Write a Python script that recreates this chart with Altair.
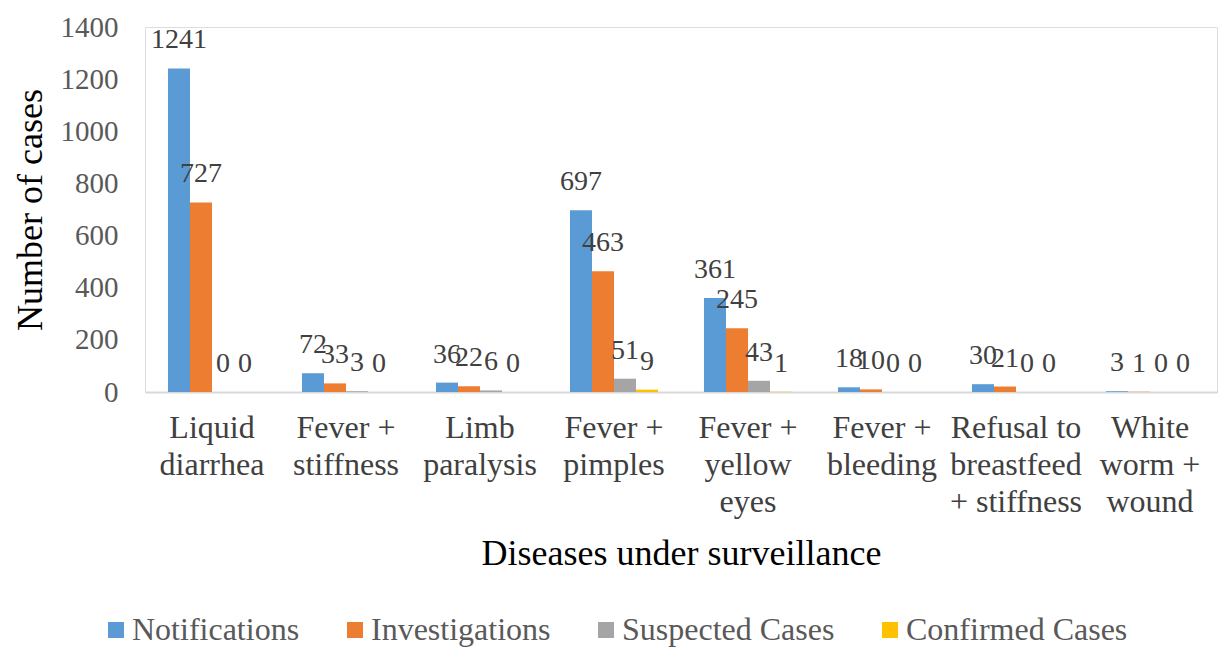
import altair as alt
import pandas as pd

# Disease categories ("|" marks a line break in the axis label)
diseases = [
    "Liquid|diarrhea",
    "Fever +|stiffness",
    "Limb|paralysis",
    "Fever +|pimples",
    "Fever +|yellow|eyes",
    "Fever +|bleeding",
    "Refusal to|breastfeed|+ stiffness",
    "White|worm +|wound",
]
series = ["Notifications", "Investigations", "Suspected Cases", "Confirmed Cases"]
colors = ["#5B9BD5", "#ED7D31", "#A5A5A5", "#FFC000"]

notifications = [1241, 72, 36, 697, 361, 18, 30, 3]
investigations = [727, 33, 22, 463, 245, 10, 21, 1]
suspected = [0, 3, 6, 51, 43, 0, 0, 0]
confirmed = [0, 0, 0, 9, 1, 0, 0, 0]

rows = []
for name, vals in zip(series, [notifications, investigations, suspected, confirmed]):
    for d, v in zip(diseases, vals):
        rows.append({"Disease": d, "Series": name, "Cases": v})
df = pd.DataFrame(rows)

font = "'Liberation Serif', 'Times New Roman', Times, serif"

x_enc = alt.X(
    "Disease:N",
    sort=diseases,
    scale=alt.Scale(paddingInner=0.343, paddingOuter=0.1715),
    axis=alt.Axis(
        title="Diseases under surveillance",
        labelExpr="split(datum.label, '|')",
        labelAngle=0,
        labelFontSize=32,
        labelLineHeight=37,
        labelColor="#404040",
        labelPadding=20,
        labelFont=font,
        labelBaseline="top",
        labelLimit=0,
        ticks=False,
        domainColor="#D9D9D9",
        domainWidth=2,
        titleFont=font,
        titleFontSize=36,
        titleFontWeight="normal",
        titleColor="#000000",
        titlePadding=19,
    ),
)
y_enc = alt.Y(
    "Cases:Q",
    scale=alt.Scale(domain=[0, 1400]),
    axis=alt.Axis(
        title="Number of cases",
        values=list(range(0, 1401, 200)),
        format="d",
        grid=False,
        domain=False,
        ticks=False,
        labelFontSize=29,
        labelColor="#595959",
        labelFont=font,
        labelPadding=27,
        titleFont=font,
        titleFontSize=36,
        titleFontWeight="normal",
        titleColor="#000000",
        titlePadding=11,
    ),
)
offset = alt.XOffset("Series:N", sort=series)

bars = alt.Chart(df).mark_bar().encode(
    x=x_enc,
    y=y_enc,
    xOffset=offset,
    color=alt.Color(
        "Series:N",
        sort=series,
        scale=alt.Scale(domain=series, range=colors),
        legend=alt.Legend(
            title=None,
            orient="none",
            legendX=-45,
            legendY=587,
            direction="horizontal",
            columns=4,
            symbolType="square",
            symbolSize=256,
            symbolStrokeWidth=0,
            labelFont=font,
            labelFontSize=32,
            labelColor="#595959",
            labelLimit=0,
            columnPadding=39,
            labelOffset=0,
        ),
    ),
)

labels = alt.Chart(df).mark_text(
    font=font, fontSize=28, color="#404040", baseline="alphabetic", dy=-20
).encode(
    x=alt.X("Disease:N", sort=diseases),
    y="Cases:Q",
    xOffset=offset,
    text="Cases:Q",
)

chart = (
    alt.layer(bars, labels)
    .properties(
        width=1072,
        height=365,
        autosize=alt.AutoSizeParams(type="none"),
        padding={"left": 145, "top": 27, "right": 3, "bottom": 256},
    )
    .configure_view(stroke=None)
    .configure(background="white", font=font)
)

chart.save("out.html", embed_options={"renderer": "svg", "actions": False})
